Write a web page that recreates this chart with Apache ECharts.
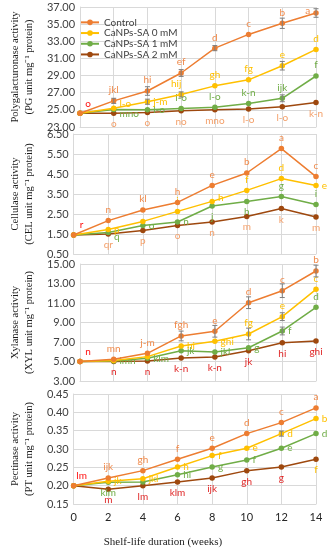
<!DOCTYPE html>
<html><head><meta charset="utf-8">
<script src="https://cdn.jsdelivr.net/npm/echarts@6/dist/echarts.min.js"></script>
<style>html,body{margin:0;padding:0;background:#fff}#c{width:330px;height:550px}</style>
</head><body><div id="c"></div>
<script>
// ---------- DATA ----------
const weeks = [0, 2, 4, 6, 8, 10, 12, 14];
const xTicks = ['0', '2', '4', '6', '8', '10', '12', '14'];
const seriesNames = ['Control', 'CaNPs-SA 0 mM', 'CaNPs-SA 1 mM', 'CaNPs-SA 2 mM'];

// Polygalacturonase activity
const pgControl = [24.6, 26.05, 27.2, 29.3, 32.2, 33.8, 35.1, 36.3];
const pgSA0     = [24.6, 25.2, 25.95, 26.8, 27.8, 28.5, 30.15, 32.05];
const pgSA1     = [24.6, 25.05, 25.0, 25.15, 25.3, 25.75, 26.35, 28.95];
const pgSA2     = [24.6, 24.6, 24.7, 24.9, 25.0, 25.1, 25.35, 25.85];
const pgControlErr = [0, 0.3, 0.5, 0.4, 0.3, 0, 0.6, 0.5];
const pgSA0Err     = [0, 0, 0.3, 0.3, 0, 0, 0.5, 0];
const pgSA1Err     = [0, 0, 0, 0, 0, 0, 0.4, 0];
const pgControlLet = ['o', 'jkl', 'hi', 'ef', 'd', 'c', 'b', 'a'];
const pgSA0Let     = ['', 'l-o', 'j-m', 'hij', 'gh', 'fg', 'e', 'd'];
const pgSA1Let     = ['', 'mno', 'l-o', 'l-o', 'l-o', 'k-n', 'ijk', 'f'];
const pgSA2Let     = ['', 'o', 'o', 'no', 'mno', 'l-o', 'l-o', 'k-n'];

// Cellulase activity
const celControl = [1.45, 2.17, 2.7, 3.08, 3.93, 4.55, 5.77, 4.37];
const celSA0     = [1.45, 1.72, 2.13, 2.63, 3.13, 3.68, 4.27, 3.92];
const celSA1     = [1.45, 1.58, 1.93, 2.1, 2.9, 3.13, 3.38, 2.97];
const celSA2     = [1.45, 1.5, 1.68, 1.93, 2.1, 2.38, 2.77, 2.35];
const celControlLet = ['r', 'n', 'kl', 'h', 'e', 'b', 'a', 'c'];
const celSA0Let     = ['', 'p', '', 'i', 'h', 'f', 'd', 'e'];
const celSA1Let     = ['', 'q', 'o', 'n', 'j', 'h', 'g', 'i'];
const celSA2Let     = ['', 'qr', 'p', 'o', 'n', 'm', 'k', 'm'];

// Xylanase activity
const xylControl = [5.0, 5.23, 5.84, 7.62, 8.1, 11.03, 12.26, 14.28];
const xylSA0     = [5.0, 5.1, 5.5, 6.59, 7.07, 7.82, 9.6, 12.4];
const xylSA1     = [5.0, 5.05, 5.33, 6.1, 5.97, 6.41, 8.13, 10.56];
const xylSA2     = [5.0, 5.0, 5.05, 5.36, 5.46, 6.1, 6.93, 7.1];
const xylControlErr = [0, 0, 0, 0.5, 0.6, 0.6, 0.7, 0.6];
const xylSA0Err     = [0, 0, 0, 0, 0, 0.6, 0.4, 0];
const xylSA1Err     = [0, 0, 0, 0, 0, 0, 0.4, 0];
const xylControlLet = ['n', 'mn', 'j-m', 'fgh', 'e', 'd', 'c', 'b'];
const xylSA0Let     = ['', '', '', 'hi', 'ghi', 'fg', 'e', 'c'];
const xylSA1Let     = ['', 'lmn', 'klm', 'jk', 'jkl', 'g', 'f', 'd'];
const xylSA2Let     = ['', 'n', 'n', 'k-n', 'k-n', 'jk', 'hi', 'ghi'];

// Pectinase activity
const ptControl = [0.20, 0.221, 0.241, 0.272, 0.302, 0.342, 0.372, 0.412];
const ptSA0     = [0.20, 0.212, 0.219, 0.251, 0.282, 0.302, 0.342, 0.383];
const ptSA1     = [0.20, 0.209, 0.21, 0.23, 0.251, 0.27, 0.302, 0.342];
const ptSA2     = [0.20, 0.19, 0.20, 0.21, 0.221, 0.241, 0.251, 0.272];
const ptSA0Err  = [0, 0, 0, 0, 0, 0, 0.007, 0];
const ptControlLet = ['lm', 'ijk', 'gh', 'f', 'e', 'd', 'c', 'a'];
const ptSA0Let     = ['', 'jk', 'jkl', 'h', 'f', 'e', 'd', 'b'];
const ptSA1Let     = ['', 'klm', '', 'hi', 'g', 'f', 'e', 'd'];
const ptSA2Let     = ['', 'm', 'lm', 'klm', 'ijk', 'gh', 'g', 'f'];

// ---------- STYLE / LAYOUT ----------
const COLORS = ['#ED7D31', '#FFC000', '#70AD47', '#9E480E'];
const LETTER_COLORS = ['#F08A4B', '#FFC000', '#70AD47'];
const RED = '#FF1010';
const SALMON = '#F4A06A';
const DARKRED = '#E02828';

const panels = [
  { name: 'Polygalacturonase activity\n(PG unit mg⁻¹ protein)', min: 23, max: 37, interval: 2,
    top: 7, height: 120,
    series: [pgControl, pgSA0, pgSA1, pgSA2],
    errs: [pgControlErr, pgSA0Err, pgSA1Err, null],
    letters: [pgControlLet, pgSA0Let, pgSA1Let, pgSA2Let],
    place: [
      ['tr', 't', 't', 't', 't', 't', 't', 'l'],
      ['', 'rt', 'r', 'tl', 't', 't', 't', 't'],
      ['', 'rb', 'r', 't', 't', 't', 't', 't'],
      ['b', 'b', 'b', 'b', 'b', 'b', 'b', 'b']],
    lowColor: SALMON },
  { name: 'Cellulase activity\n(CEL unit mg⁻¹ protein)', min: 0.5, max: 6.5, interval: 1,
    top: 134, height: 120,
    series: [celControl, celSA0, celSA1, celSA2],
    errs: [null, null, null, null],
    letters: [celControlLet, celSA0Let, celSA1Let, celSA2Let],
    place: [
      ['tr', 't', 't', 't', 't', 't', 't', 't'],
      ['', 'r', 'r', 't', 'rt', 't', 't', 'r'],
      ['', 'rb', 'r', 'r', 'b', 'b', 't', 't'],
      ['b', 'b', 'b', 'b', 'b', 'b', 'b', 'b']],
    lowColor: SALMON },
  { name: 'Xylanase activity\n(XYL unit mg⁻¹ protein)', min: 3, max: 15, interval: 2,
    top: 264, height: 117,
    series: [xylControl, xylSA0, xylSA1, xylSA2],
    errs: [xylControlErr, xylSA0Err, xylSA1Err, null],
    letters: [xylControlLet, xylSA0Let, xylSA1Let, xylSA2Let],
    place: [
      ['tr', 't', 't', 't', 't', 't', 't', 't'],
      ['', 'r', 'r', 'r', 'r', 't', 't', 't'],
      ['', 'r', 'r', 'r', 'r', 'r', 'r', 't'],
      ['b', 'b', 'b', 'b', 'b', 'b', 'b', 'b']],
    lowColor: DARKRED },
  { name: 'Pectinase activity\n(PT unit mg⁻¹ protein)', min: 0.15, max: 0.45, interval: 0.05,
    top: 394, height: 110,
    series: [ptControl, ptSA0, ptSA1, ptSA2],
    errs: [null, ptSA0Err, null, null],
    letters: [ptControlLet, ptSA0Let, ptSA1Let, ptSA2Let],
    place: [
      ['tr', 't', 't', 't', 't', 't', 't', 't'],
      ['', 'r', 'r', 'r', 'r', 'r', 'r', 'r'],
      ['', 'b', 'r', 'r', 'r', 'r', 'r', 'r'],
      ['b', 'b', 'b', 'b', 'b', 'b', 'b', 'b']],
    lowColor: DARKRED, lastLowColor: '#FFC000' }
];

const PLACE = {
  t:  { position: 'top', distance: 3 },
  tl: { position: 'top', distance: 3, offset: [-5, 0] },
  tr: { position: 'top', distance: 2, offset: [8, 0] },
  b:  { position: 'bottom', distance: 3 },
  r:  { position: 'right', distance: 3 },
  rt: { position: 'right', distance: 3, offset: [0, -4] },
  rb: { position: 'right', distance: 3, offset: [0, 4] },
  l:  { position: 'left', distance: 3, offset: [0, -2] }
};

const LETTER_FONT = { fontFamily: 'Lato', fontSize: 10 };

function errRender(params, api) {
  const x = api.value(0), y = api.value(1), e = api.value(2);
  if (!e) return null;
  const t = api.coord([x, y + e]), b = api.coord([x, y - e]);
  const w = 2.5, st = { stroke: '#7F7F7F', lineWidth: 1 };
  return { type: 'group', children: [
    { type: 'line', shape: { x1: t[0], y1: t[1], x2: b[0], y2: b[1] }, style: st },
    { type: 'line', shape: { x1: t[0] - w, y1: t[1], x2: t[0] + w, y2: t[1] }, style: st },
    { type: 'line', shape: { x1: b[0] - w, y1: b[1], x2: b[0] + w, y2: b[1] }, style: st }
  ]};
}

const grids = [], xAxes = [], yAxes = [], series = [];
const GRID_COLOR = '#D9D9D9';

panels.forEach((p, pi) => {
  grids.push({ left: 65, right: 14, top: p.top, height: p.height });
  xAxes.push({
    type: 'value', gridIndex: pi, min: 0, max: 14, interval: 2,
    axisLine: { show: true, lineStyle: { color: GRID_COLOR } },
    axisTick: { show: false },
    splitLine: { show: true, lineStyle: { color: GRID_COLOR, width: 1 } },
    axisLabel: { show: pi === 3, margin: 8, color: '#262626', fontFamily: 'Lato', fontSize: 11,
      formatter: v => xTicks[weeks.indexOf(v)] }
  });
  yAxes.push({
    type: 'value', gridIndex: pi, min: p.min, max: p.max, interval: p.interval,
    axisLine: { show: true, lineStyle: { color: GRID_COLOR } },
    axisTick: { show: false },
    splitLine: { show: true, lineStyle: { color: GRID_COLOR, width: 1 } },
    axisLabel: { margin: 5, color: '#404040', fontFamily: 'Lato', fontSize: 11,
      formatter: v => Number(v).toFixed(2) },
    name: p.name, nameLocation: 'middle', nameRotate: 90, nameGap: 22,
    nameTextStyle: { fontFamily: 'Liberation Serif', fontSize: 10.5, color: '#1a1a1a', lineHeight: 14, align: 'center' }
  });
  p.series.forEach((vals, si) => {
    const data = weeks.map((w, i) => {
      const txt = p.letters[si][i];
      const code = p.place[si][i] || 't';
      let color = si < 3 ? LETTER_COLORS[si] : p.lowColor;
      if (si === 0 && i === 0) color = RED;
      if (si === 3 && i === weeks.length - 1 && p.lastLowColor) color = p.lastLowColor;
      const item = { value: [w, vals[i]] };
      if (txt) {
        item.label = Object.assign({ show: true, formatter: txt, color: color }, LETTER_FONT, PLACE[code]);
      } else {
        item.label = { show: false };
      }
      return item;
    });
    series.push({
      type: 'line', name: seriesNames[si], xAxisIndex: pi, yAxisIndex: pi,
      data: data, symbol: 'circle', symbolSize: 5.5, showSymbol: true,
      lineStyle: { color: COLORS[si], width: 1.5 },
      itemStyle: { color: COLORS[si] },
      z: 4 - si + 2
    });
    const err = p.errs[si];
    if (err) {
      series.push({
        type: 'custom', xAxisIndex: pi, yAxisIndex: pi, renderItem: errRender,
        data: weeks.map((w, i) => [w, vals[i], err[i]]), z: 10, silent: true
      });
    }
  });
});

const chart = echarts.init(document.getElementById('c'), null, { renderer: 'canvas' });
chart.setOption({
  animation: false,
  backgroundColor: '#fff',
  grid: grids, xAxis: xAxes, yAxis: yAxes, series: series,
  legend: {
    data: seriesNames, orient: 'vertical', left: 75, top: 12,
    itemWidth: 18, itemHeight: 7, itemGap: 0,
    textStyle: { fontFamily: 'Lato', fontSize: 10, color: '#404040', lineHeight: 10.7 }
  },
  graphic: [{
    type: 'text', x: 163, y: 542,
    style: { text: 'Shelf-life duration (weeks)', fontFamily: 'Liberation Serif', fontSize: 11,
      fill: '#1a1a1a', textAlign: 'center', textVerticalAlign: 'middle' }
  }]
});
</script></body></html>
